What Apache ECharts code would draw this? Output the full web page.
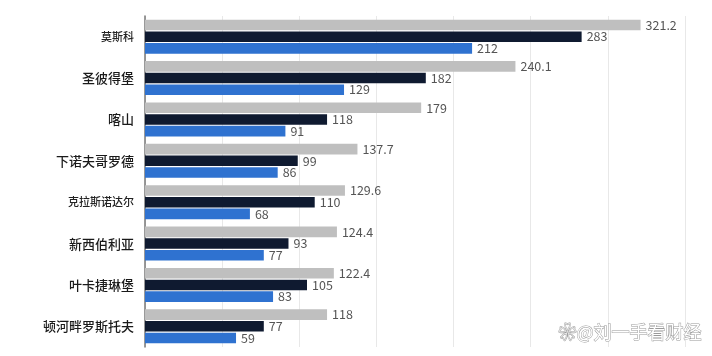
<!DOCTYPE html>
<html>
<head>
<meta charset="utf-8">
<script src="https://cdn.jsdelivr.net/npm/echarts@6/dist/echarts.min.js"></script>
<style>html,body{margin:0;padding:0;background:#fff;}#c{width:712px;height:356px;}</style>
</head>
<body>
<div id="c"></div>
<script>
var categories = ['莫斯科','圣彼得堡','喀山','下诺夫哥罗德','克拉斯诺达尔','新西伯利亚','叶卡捷琳堡','顿河畔罗斯托夫'];
var seriesGray = [321.2, 240.1, 179, 137.7, 129.6, 124.4, 122.4, 118];
var seriesNavy = [283, 182, 118, 99, 110, 93, 105, 77];
var seriesBlue = [212, 129, 91, 86, 68, 77, 83, 59];
var smallLabels = ['莫斯科','克拉斯诺达尔'];

var chart = echarts.init(document.getElementById('c'), null, {renderer:'canvas'});
var font = '"Noto Sans CJK SC","Noto Sans",sans-serif';
function mk(name, data, color){
  return {
    name: name, type: 'bar', data: data,
    barGap: '10%', barCategoryGap: '18%',
    itemStyle: {color: color},
    label: {show: true, position: 'right', distance: 5, color: '#555', fontSize: 12.5, fontFamily: font,
      formatter: function(p){ return String(p.value); }},
    silent: true
  };
}
chart.setOption({
  animation: false,
  grid: {left: 145, right: 27, top: 16, bottom: 9},
  xAxis: {type: 'value', min: 0, max: 350, interval: 50,
    axisLabel: {show: false}, axisLine: {show: false}, axisTick: {show: false},
    splitLine: {show: true, lineStyle: {color: '#e8e8e8', width: 1}}},
  yAxis: {type: 'category', data: categories, inverse: true,
    axisLine: {show: true, lineStyle: {color: '#777', width: 1.5}},
    axisTick: {show: false},
    axisLabel: {margin: 11, color: '#222', fontFamily: font,
      formatter: function(v){ return smallLabels.indexOf(v) >= 0 ? '{s|' + v + '}' : '{n|' + v + '}'; },
      rich: {s: {fontSize: 11, fontFamily: font, color: '#222', fontWeight: 500}, n: {fontSize: 13, fontFamily: font, color: '#1a1a1a', fontWeight: 500}}}},
  series: [mk('gray', seriesGray, '#bfbfbf'), mk('navy', seriesNavy, '#0f1a30'), mk('blue', seriesBlue, '#2f72d0')],
  graphic: [{type: 'text', right: 10, bottom: 14, z: 100,
    style: {text: '❀@刘一手看财经', font: '18px ' + font, fill: '#fff', stroke: '#999', lineWidth: 1}}]
});
</script>
</body>
</html>
